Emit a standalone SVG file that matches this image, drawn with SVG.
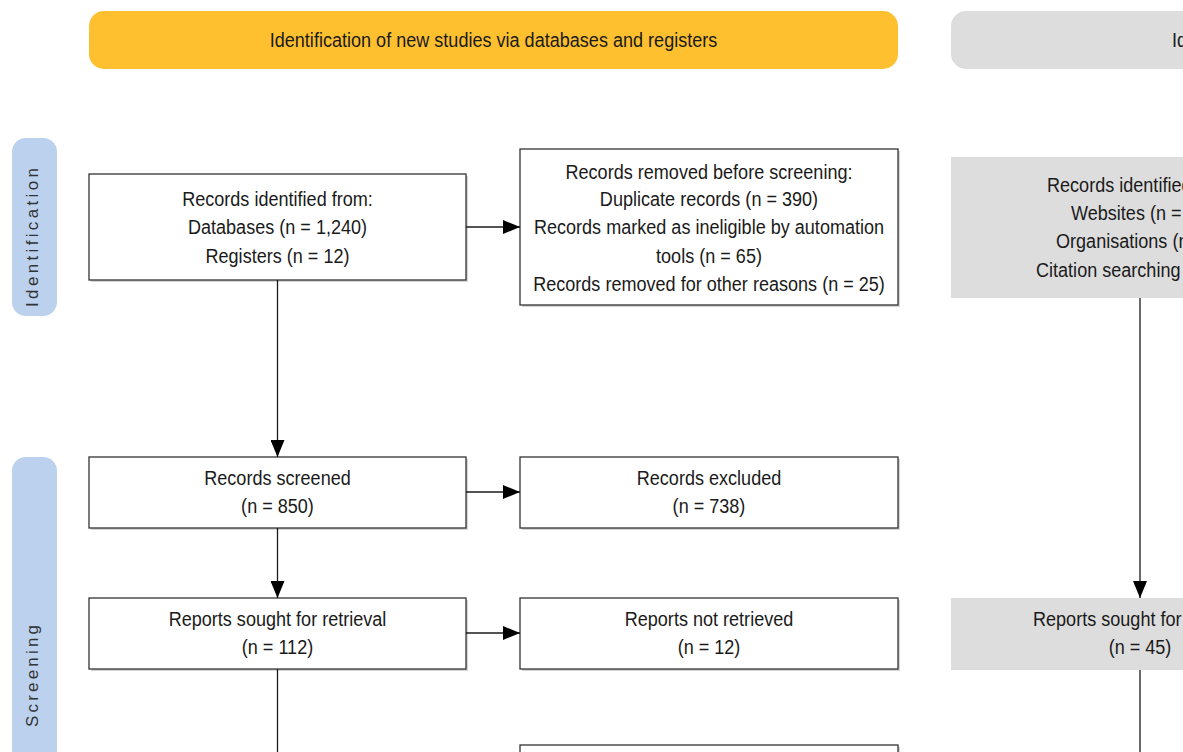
<svg xmlns="http://www.w3.org/2000/svg" width="1183" height="752" viewBox="0 0 1183 752">
<style>
.box{fill:#ffffff;stroke:#333333;stroke-width:1.3}
.gbox{fill:#dddddd;stroke:none}
.shadow{fill:#d4d4d4;stroke:none}
.t{font-family:"Liberation Sans",Arial,sans-serif;font-size:21px;fill:#1a1a1a;text-anchor:middle}
.ts{font-family:"Liberation Sans",Arial,sans-serif;font-size:21px;fill:#1a1a1a;text-anchor:start}
.side{font-family:"Liberation Sans",Arial,sans-serif;font-size:17px;fill:#333333;text-anchor:middle}
.edge{stroke:#1a1a1a;stroke-width:1.3;fill:none}
</style>
<defs>
<marker id="ah" markerWidth="17" markerHeight="14" refX="17" refY="7" orient="auto" markerUnits="userSpaceOnUse">
<path d="M0,0 L17,7 L0,14 Z" fill="#000000"/>
</marker>
</defs>
<rect width="1183" height="752" fill="#ffffff"/>

<g id="header-new">
<rect x="89" y="11" width="809" height="58" rx="15" fill="#fec02f"/>
<text class="t" transform="translate(493.5 47) scale(0.86 1)">Identification of new studies via databases and registers</text>
</g>
<g id="header-other">
<rect x="951" y="11" width="300" height="58" rx="15" fill="#dddddd"/>
<text class="ts" transform="translate(1172 47) scale(0.86 1)">Identification of new studies via other methods</text>
</g>

<g id="lane-identification">
<rect x="12" y="138" width="45" height="178" rx="14" fill="#bcd1ee"/>
<text class="side" transform="translate(38,237.5) rotate(-90)" textLength="139" lengthAdjust="spacing">Identification</text>
</g>
<g id="lane-screening">
<rect x="12" y="457" width="45" height="320" rx="14" fill="#bcd1ee"/>
<text class="side" transform="translate(38,676) rotate(-90)" textLength="102" lengthAdjust="spacing">Screening</text>
</g>

<g id="records-identified">
<rect class="shadow" x="91" y="176" width="377" height="106"/>
<rect class="box" x="89" y="174" width="377" height="106"/>
<text class="t" transform="translate(277.5 206) scale(0.86 1)">Records identified from:</text>
<text class="t" transform="translate(277.5 234) scale(0.86 1)">Databases (n = 1,240)</text>
<text class="t" transform="translate(277.5 263) scale(0.86 1)">Registers (n = 12)</text>
</g>

<g id="records-removed">
<rect class="shadow" x="522" y="151" width="378" height="156"/>
<rect class="box" x="520" y="149" width="378" height="156"/>
<text class="t" transform="translate(709 179) scale(0.86 1)">Records removed before screening:</text>
<text class="t" transform="translate(709 206) scale(0.86 1)">Duplicate records (n = 390)</text>
<text class="t" transform="translate(709 234) scale(0.86 1)">Records marked as ineligible by automation</text>
<text class="t" transform="translate(709 263) scale(0.86 1)">tools (n = 65)</text>
<text class="t" transform="translate(709 291) scale(0.86 1)">Records removed for other reasons (n = 25)</text>
</g>

<g id="records-other">
<rect class="gbox" x="951" y="157" width="300" height="141"/>
<text class="ts" transform="translate(1047 192) scale(0.86 1)">Records identified from:</text>
<text class="ts" transform="translate(1071 220) scale(0.86 1)">Websites (n =</text>
<text class="ts" transform="translate(1056 248) scale(0.86 1)">Organisations (n =</text>
<text class="ts" transform="translate(1036 277) scale(0.86 1)">Citation searching (n =</text>
</g>

<g id="records-screened">
<rect class="shadow" x="91" y="459" width="377" height="71"/>
<rect class="box" x="89" y="457" width="377" height="71"/>
<text class="t" transform="translate(277.5 485) scale(0.86 1)">Records screened</text>
<text class="t" transform="translate(277.5 513) scale(0.86 1)">(n = 850)</text>
</g>

<g id="records-excluded">
<rect class="shadow" x="522" y="459" width="378" height="71"/>
<rect class="box" x="520" y="457" width="378" height="71"/>
<text class="t" transform="translate(709 485) scale(0.86 1)">Records excluded</text>
<text class="t" transform="translate(709 513) scale(0.86 1)">(n = 738)</text>
</g>

<g id="reports-sought">
<rect class="shadow" x="91" y="600" width="377" height="71"/>
<rect class="box" x="89" y="598" width="377" height="71"/>
<text class="t" transform="translate(277.5 626) scale(0.86 1)">Reports sought for retrieval</text>
<text class="t" transform="translate(277.5 654) scale(0.86 1)">(n = 112)</text>
</g>

<g id="reports-not-retrieved">
<rect class="shadow" x="522" y="600" width="378" height="71"/>
<rect class="box" x="520" y="598" width="378" height="71"/>
<text class="t" transform="translate(709 626) scale(0.86 1)">Reports not retrieved</text>
<text class="t" transform="translate(709 654) scale(0.86 1)">(n = 12)</text>
</g>

<g id="reports-sought-other">
<rect class="gbox" x="951" y="598" width="300" height="72"/>
<text class="ts" transform="translate(1033 626) scale(0.86 1)">Reports sought for retrieval</text>
<text class="t" transform="translate(1140 654) scale(0.86 1)">(n = 45)</text>
</g>

<g id="reports-assessed-excluded">
<rect class="shadow" x="522" y="747" width="378" height="20"/>
<rect class="box" x="520" y="745" width="378" height="20"/>
</g>

<g id="connectors">
<line class="edge" x1="466" y1="227" x2="520" y2="227" marker-end="url(#ah)"/>
<line class="edge" x1="277.5" y1="280" x2="277.5" y2="457" marker-end="url(#ah)"/>
<line class="edge" x1="466" y1="492" x2="520" y2="492" marker-end="url(#ah)"/>
<line class="edge" x1="277.5" y1="528" x2="277.5" y2="598" marker-end="url(#ah)"/>
<line class="edge" x1="466" y1="633" x2="520" y2="633" marker-end="url(#ah)"/>
<line class="edge" x1="277.5" y1="669" x2="277.5" y2="760"/>
<line class="edge" x1="1140" y1="298" x2="1140" y2="598" marker-end="url(#ah)"/>
<line class="edge" x1="1140" y1="670" x2="1140" y2="760"/>
</g>
</svg>
